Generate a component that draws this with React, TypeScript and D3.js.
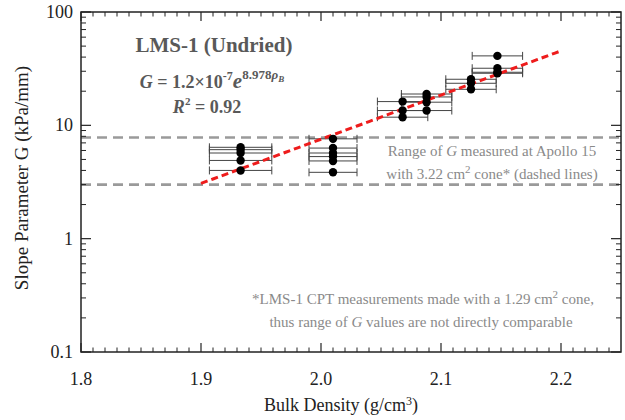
import React from "react";
import * as d3 from "d3";

const W = 625;
const H = 420;

// Data
const density = [
  1.933, 1.933, 1.933, 1.933, 1.933,
  2.01, 2.01, 2.01, 2.01, 2.01, 2.01,
  2.068, 2.068, 2.068,
  2.088, 2.088, 2.088, 2.088,
  2.125, 2.125, 2.125,
  2.147, 2.147, 2.147, 2.147,
];
const slopeG = [
  6.4, 6.1, 5.7, 4.9, 4.0,
  7.6, 6.3, 5.7, 5.3, 4.85, 3.85,
  16.2, 13.5, 11.8,
  18.9, 17.8, 16.0, 13.5,
  25.5, 23.5, 20.8,
  41.0, 31.9, 29.4, 28.8,
];
const densityErr = [
  0.026, 0.026, 0.026, 0.026, 0.026,
  0.02, 0.02, 0.02, 0.02, 0.02, 0.02,
  0.021, 0.021, 0.021,
  0.021, 0.021, 0.021, 0.021,
  0.021, 0.021, 0.021,
  0.021, 0.021, 0.021, 0.021,
];
const apolloRange = [3.0, 7.8];
const fitA = 1.2e-7;
const fitB = 8.978;
const fitDomain = [1.9, 2.2];
const xTicks = [1.8, 1.9, 2.0, 2.1, 2.2];
const yTicks = [0.1, 1, 10, 100];

const M = { left: 81, right: 621, top: 12, bottom: 352 };

export default function App() {
  const x = d3.scaleLinear().domain([1.8, 2.25]).range([M.left, M.right]);
  const y = d3.scaleLog().domain([0.1, 100]).range([M.bottom, M.top]);

  const xMinor = d3.range(181, 225).map((v) => v / 100);
  const yMinor: number[] = [];
  [0.1, 1, 10].forEach((dec) => {
    for (let k = 2; k <= 9; k++) yMinor.push(dec * k);
  });

  const fitPts = d3.range(0, 61).map((i) => {
    const r = fitDomain[0] + ((fitDomain[1] - fitDomain[0]) * i) / 60;
    return [r, fitA * Math.exp(fitB * r)] as [number, number];
  });
  const line = d3
    .line<[number, number]>()
    .x((d) => x(d[0]))
    .y((d) => y(d[1]));

  const font = "'Liberation Serif', 'Times New Roman', serif";
  const axisColor = "#222";
  const textGray = "#595959";
  const lightGray = "#8a8a8a";

  return (
    <svg
      width={W}
      height={H}
      style={{ position: "fixed", left: 0, top: 0, background: "#fff" }}
      fontFamily={font}
    >
      {/* Apollo dashed lines */}
      {apolloRange.map((g, i) => (
        <line
          key={"ap" + i}
          x1={M.left}
          x2={M.right}
          y1={y(g)}
          y2={y(g)}
          stroke="#9a9a9a"
          strokeWidth={2.6}
          strokeDasharray="10,6"
        />
      ))}

      {/* error bars */}
      {density.map((d, i) => {
        const yy = y(slopeG[i]);
        const x0 = x(d - densityErr[i]);
        const x1 = x(d + densityErr[i]);
        return (
          <g key={"eb" + i} stroke="#444" strokeWidth={1}>
            <line x1={x0} x2={x1} y1={yy} y2={yy} />
            <line x1={x0} x2={x0} y1={yy - 4} y2={yy + 4} />
            <line x1={x1} x2={x1} y1={yy - 4} y2={yy + 4} />
          </g>
        );
      })}

      {/* fit line */}
      <path
        d={line(fitPts) || ""}
        fill="none"
        stroke="#ee1c1c"
        strokeWidth={3}
        strokeDasharray="7,4"
      />

      {/* points */}
      {density.map((d, i) => (
        <circle key={"pt" + i} cx={x(d)} cy={y(slopeG[i])} r={4.2} fill="#000" />
      ))}

      {/* axes frame */}
      <rect
        x={M.left}
        y={M.top}
        width={M.right - M.left}
        height={M.bottom - M.top}
        fill="none"
        stroke={axisColor}
        strokeWidth={1.5}
      />
      {/* x ticks */}
      {xTicks.map((t) => (
        <g key={"xt" + t} stroke={axisColor} strokeWidth={1.2}>
          <line x1={x(t)} x2={x(t)} y1={M.bottom} y2={M.bottom - 9} />
          <line x1={x(t)} x2={x(t)} y1={M.top} y2={M.top + 9} />
        </g>
      ))}
      {xMinor
        .filter((t) => Math.abs(t * 10 - Math.round(t * 10)) > 1e-6)
        .map((t) => (
          <g key={"xm" + t} stroke={axisColor} strokeWidth={1}>
            <line x1={x(t)} x2={x(t)} y1={M.bottom} y2={M.bottom - 4.5} />
            <line x1={x(t)} x2={x(t)} y1={M.top} y2={M.top + 4.5} />
          </g>
        ))}
      {xTicks.map((t) => (
        <text
          key={"xl" + t}
          x={x(t)}
          y={M.bottom + 33}
          textAnchor="middle"
          fontSize={18}
          fill="#222"
        >
          {t.toFixed(1)}
        </text>
      ))}
      {/* y ticks */}
      {yTicks.map((t) => (
        <g key={"yt" + t} stroke={axisColor} strokeWidth={1.2}>
          <line x1={M.left} x2={M.left + 10} y1={y(t)} y2={y(t)} />
          <line x1={M.right} x2={M.right - 10} y1={y(t)} y2={y(t)} />
        </g>
      ))}
      {yMinor.map((t) => (
        <g key={"ym" + t} stroke={axisColor} strokeWidth={1}>
          <line x1={M.left} x2={M.left + 5} y1={y(t)} y2={y(t)} />
          <line x1={M.right} x2={M.right - 5} y1={y(t)} y2={y(t)} />
        </g>
      ))}
      {yTicks.map((t) => (
        <text
          key={"yl" + t}
          x={M.left - 8}
          y={y(t) + 6}
          textAnchor="end"
          fontSize={18}
          fill="#222"
        >
          {t === 0.1 ? "0.1" : String(t)}
        </text>
      ))}

      {/* axis titles */}
      <text x={(M.left + M.right) / 2 - 10} y={411} textAnchor="middle" fontSize={18} fill="#222">
        Bulk Density (g/cm
        <tspan dy={-6} fontSize={12}>3</tspan>
        <tspan dy={6}>)</tspan>
      </text>
      <text
        transform={`translate(28, 178) rotate(-90)`}
        textAnchor="middle"
        fontSize={19}
        fill="#222"
      >
        Slope Parameter G (kPa/mm)
      </text>

      {/* annotations */}
      <text x={214} y={52} textAnchor="middle" fontSize={21} fontWeight="bold" fill={textGray}>
        LMS-1 (Undried)
      </text>
      <text x={212} y={88} textAnchor="middle" fontSize={18} fontWeight="bold" fill={textGray}>
        <tspan fontStyle="italic">G</tspan>
        <tspan> = 1.2×10</tspan>
        <tspan dy={-8} fontSize={12}>-7</tspan>
        <tspan dy={8} fontStyle="italic" fontSize={21}>e</tspan>
        <tspan dy={-9} fontSize={13}>8.978</tspan>
        <tspan fontStyle="italic" fontSize={13}>ρ</tspan>
        <tspan dy={3} fontStyle="italic" fontSize={9}>B</tspan>
      </text>
      <text x={207} y={113} textAnchor="middle" fontSize={18} fontWeight="bold" fill={textGray}>
        <tspan fontStyle="italic">R</tspan>
        <tspan dy={-8} fontSize={11}>2</tspan>
        <tspan dy={8}> = 0.92</tspan>
      </text>

      <text x={492} y={156} textAnchor="middle" fontSize={15} fill={lightGray}>
        Range of <tspan fontStyle="italic">G</tspan> measured at Apollo 15
      </text>
      <text x={492} y={179} textAnchor="middle" fontSize={15} fill={lightGray}>
        with 3.22 cm<tspan dy={-6} fontSize={11}>2</tspan>
        <tspan dy={6}> cone* (dashed lines)</tspan>
      </text>

      <text x={423} y={304} textAnchor="middle" fontSize={15} fill={lightGray}>
        *LMS-1 CPT measurements made with a 1.29 cm<tspan dy={-6} fontSize={11}>2</tspan>
        <tspan dy={6}> cone,</tspan>
      </text>
      <text x={421} y={327} textAnchor="middle" fontSize={15} fill={lightGray}>
        thus range of <tspan fontStyle="italic">G</tspan> values are not directly comparable
      </text>
    </svg>
  );
}
